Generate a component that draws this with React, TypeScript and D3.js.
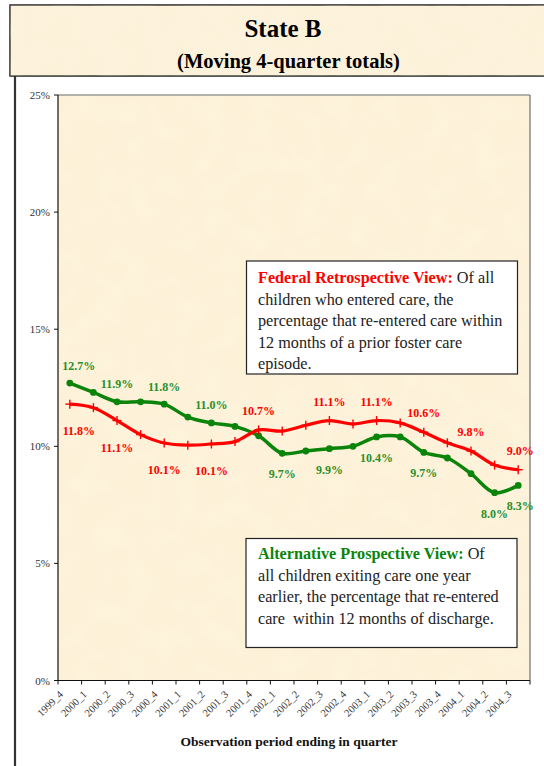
import React from "react";
import * as d3 from "d3";

const categories = [
  "1999_4", "2000_1", "2000_2", "2000_3", "2000_4", "2001_1", "2001_2", "2001_3", "2001_4", "2002_1",
  "2002_2", "2002_3", "2002_4", "2003_1", "2003_2", "2003_3", "2003_4", "2004_1", "2004_2", "2004_3",
];
const federalRetro = [11.8, 11.65, 11.1, 10.5, 10.14, 10.05, 10.1, 10.2, 10.7, 10.65, 10.9, 11.1, 10.95, 11.1, 11.0, 10.6, 10.15, 9.8, 9.2, 9.0];
const altProspective = [12.7, 12.3, 11.9, 11.9, 11.8, 11.25, 11.0, 10.85, 10.45, 9.7, 9.8, 9.9, 10.0, 10.4, 10.4, 9.74, 9.5, 8.83, 8.02, 8.33];
const redLabelIdx = [0, 2, 4, 6, 8, 11, 13, 15, 17, 19];
const redLabelAbove = [false, false, false, false, true, true, true, true, true, true];
const greenLabelIdx = [0, 2, 4, 6, 9, 11, 13, 15, 18, 19];
const greenLabelAbove = [true, true, true, true, false, false, false, false, false, false];
const yTicks = [0, 5, 10, 15, 20, 25];

const W = 544;
const H = 766;
const RED = "#ff0000";
const GREEN = "#0a840a";
const GREEN_TXT = "#2a8f2a";
const SERIF = "'Liberation Serif', 'DejaVu Serif', serif";

export default function App() {
  const x = d3.scaleBand<string>().domain(categories).range([58, 530]).padding(0);
  const y = d3.scaleLinear().domain([0, 25]).range([680.5, 95]);
  const cx = (i: number) => (x(categories[i]) as number) + x.bandwidth() / 2;
  const line = d3
    .line<number>()
    .x((_, i) => cx(i))
    .y((d) => y(d))
    .curve(d3.curveCatmullRom.alpha(0.5));

  const boundaries = d3.range(categories.length + 1).map((i) => 58 + i * x.bandwidth());
  const labelDx = (idx: number) => (idx === 0 ? 9 : idx === categories.length - 1 ? 2 : 0);

  return (
    <svg width={W} height={H} style={{ position: "absolute", left: 0, top: 0, background: "#fff" }} fontFamily={SERIF}>
      <defs>
        <filter id="paper" x="0" y="0" width="100%" height="100%">
          <feTurbulence type="fractalNoise" baseFrequency="0.04" numOctaves="2" seed="3" result="n" />
          <feColorMatrix
            in="n"
            type="matrix"
            values="0 0 0 0 0.99  0 0 0 0 0.93  0 0 0 0 0.80  0 0 0 0.35 0"
            result="c"
          />
          <feComposite in="c" in2="SourceGraphic" operator="in" />
        </filter>
      </defs>
      {/* Title box */}
      <rect x={10} y={5} width={560} height={71} fill="#fcf1d8" stroke="#222" strokeWidth={1.5} />
      <rect x={10} y={5} width={560} height={71} fill="#fcf1d8" filter="url(#paper)" />
      <text x={283} y={37} textAnchor="middle" fontWeight="bold" fontSize={25} fill="#000">
        State B
      </text>
      <text x={288.5} y={68} textAnchor="middle" fontWeight="bold" fontSize={20.5} fill="#000">
        (Moving 4-quarter totals)
      </text>
      {/* page left border */}
      <line x1={15} x2={15} y1={76} y2={H} stroke="#333" strokeWidth={2.2} />

      {/* Plot area */}
      <rect x={58} y={95} width={472} height={585.5} fill="#fdf1d6" />
      <rect x={58} y={95} width={472} height={585.5} fill="#fdf1d6" filter="url(#paper)" />
      <line x1={58} x2={530} y1={95} y2={95} stroke="#999" strokeWidth={1.5} />
      <line x1={530} x2={530} y1={95} y2={680.5} stroke="#888" strokeWidth={1.5} />
      <line x1={58} x2={58} y1={95} y2={680.5} stroke="#111" strokeWidth={1.2} />
      <line x1={58} x2={530} y1={680.5} y2={680.5} stroke="#111" strokeWidth={1.2} />

      {/* y ticks */}
      {yTicks.map((t) => (
        <g key={t}>
          <line x1={54} x2={58} y1={y(t)} y2={y(t)} stroke="#111" strokeWidth={1} />
          <text x={50} y={y(t) + 4} textAnchor="end" fontSize={11} fill="#333">
            {t}%
          </text>
        </g>
      ))}
      {/* x ticks */}
      {boundaries.map((b, i) => (
        <line key={i} x1={b} x2={b} y1={680.5} y2={684.5} stroke="#111" strokeWidth={1} />
      ))}
      {categories.map((c, i) => (
        <text
          key={c}
          transform={`translate(${cx(i) - 6},${695}) rotate(-45)`}
          textAnchor="end"
          fontSize={10.5}
          fill="#333"
        >
          {c}
        </text>
      ))}
      <text x={289} y={746} textAnchor="middle" fontWeight="bold" fontSize={13.5} fill="#111">
        Observation period ending in quarter
      </text>

      {/* Lines */}
      <path d={line(altProspective) || ""} fill="none" stroke={GREEN} strokeWidth={3.5} />
      <path d={line(federalRetro) || ""} fill="none" stroke={RED} strokeWidth={3.2} />
      {altProspective.map((v, i) => (
        <circle key={i} cx={cx(i)} cy={y(v)} r={3.4} fill={GREEN} />
      ))}
      {federalRetro.map((v, i) => (
        <g key={i} stroke={RED} strokeWidth={1.4}>
          <line x1={cx(i) - 4.5} x2={cx(i) + 4.5} y1={y(v)} y2={y(v)} />
          <line x1={cx(i)} x2={cx(i)} y1={y(v) - 4.5} y2={y(v) + 4.5} />
        </g>
      ))}

      {/* data labels */}
      {redLabelIdx.map((idx, k) => (
        <text
          key={idx}
          x={cx(idx) + labelDx(idx)}
          y={y(federalRetro[idx]) + (redLabelAbove[k] ? -15 : 31)}
          textAnchor="middle"
          fontWeight="bold"
          fontSize={12}
          fill={RED}
        >
          {federalRetro[idx].toFixed(1)}%
        </text>
      ))}
      {greenLabelIdx.map((idx, k) => (
        <text
          key={idx}
          x={cx(idx) + labelDx(idx)}
          y={y(altProspective[idx]) + (greenLabelAbove[k] ? -13.5 : 25)}
          textAnchor="middle"
          fontWeight="bold"
          fontSize={12}
          fill={GREEN_TXT}
        >
          {(Math.floor(altProspective[idx] * 10 + 1e-6) / 10).toFixed(1)}%
        </text>
      ))}

      {/* Legend box 1 */}
      <rect x={246.5} y={261} width={271} height={113} fill="#fff" stroke="#222" strokeWidth={1.2} />
      <g fontSize={16.2} fill="#222">
        <text x={258} y={283}>
          <tspan fill={RED} fontWeight="bold">Federal Retrospective View:</tspan>
          <tspan> Of all</tspan>
        </text>
        <text x={258} y={304.5}>children who entered care, the</text>
        <text x={258} y={326}>percentage that re-entered care within</text>
        <text x={258} y={347.5}>12 months of a prior foster care</text>
        <text x={258} y={369}>episode.</text>
      </g>

      {/* Legend box 2 */}
      <rect x={246} y={538.5} width={271} height={109} fill="#fff" stroke="#222" strokeWidth={1.2} />
      <g fontSize={16.2} fill="#222">
        <text x={258} y={559}>
          <tspan fill={GREEN} fontWeight="bold">Alternative Prospective View:</tspan>
          <tspan> Of</tspan>
        </text>
        <text x={258} y={580.5}>all children exiting care one year</text>
        <text x={258} y={602}>earlier, the percentage that re-entered</text>
        <text x={258} y={623.5}>care&#160; within 12 months of discharge.</text>
      </g>
    </svg>
  );
}
